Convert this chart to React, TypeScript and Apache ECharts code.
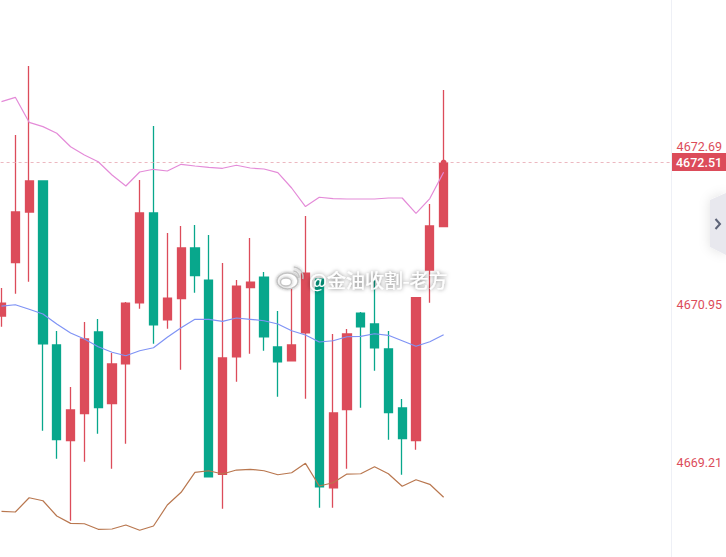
import { useEffect, useRef } from "react";
import * as echarts from "echarts";

const EMPTY_SLOTS = 16;

// open, close, low, high of each candle
const opens = [
  4670.822, 4671.409, 4671.967, 4672.308, 4670.503, 4669.45, 4669.747, 4670.646, 4669.857, 4670.297, 4670.968,
  4671.956, 4670.781, 4671.013, 4671.571, 4671.218, 4669.08, 4670.374, 4671.134, 4671.251, 4670.481, 4670.33,
  4670.638, 4671.229, 4668.932, 4669.791, 4670.855, 4670.734, 4670.459, 4669.81, 4669.45, 4671.328, 4671.805
];
const closes = [
  4670.965, 4671.967, 4672.308, 4670.517, 4669.461, 4669.788, 4670.569, 4669.813, 4670.294, 4670.965, 4671.956,
  4670.726, 4671.02, 4671.571, 4671.266, 4669.053, 4670.36, 4671.152, 4671.196, 4670.594, 4670.319, 4670.503,
  4671.295, 4668.943, 4669.755, 4670.624, 4670.704, 4670.473, 4669.758, 4669.472, 4671.024, 4671.813, 4672.51
];
const lows = [
  4670.704, 4671.068, 4671.2, 4669.56, 4669.252, 4668.569, 4669.218, 4669.527, 4669.141, 4669.417, 4670.902,
  4670.517, 4670.682, 4670.231, 4671.079, 4669.053, 4668.701, 4670.099, 4670.407, 4670.44, 4669.934, 4670.33,
  4669.912, 4668.712, 4668.712, 4669.141, 4669.813, 4670.22, 4669.461, 4669.075, 4669.351, 4670.968, 4671.805
];
const highs = [
  4671.13, 4672.814, 4673.574, 4672.308, 4670.657, 4670.041, 4670.756, 4670.789, 4670.415, 4670.976, 4672.319,
  4672.913, 4671.736, 4671.813, 4671.824, 4671.714, 4671.405, 4671.218, 4671.681, 4671.306, 4670.877, 4671.273,
  4671.923, 4671.229, 4670.624, 4670.679, 4670.866, 4671.218, 4670.657, 4669.909, 4671.024, 4672.055, 4673.309
];

const upperBand = [
  4673.181, 4673.229, 4672.954, 4672.906, 4672.833, 4672.685, 4672.594, 4672.52, 4672.374, 4672.253, 4672.407,
  4672.437, 4672.418, 4672.492, 4672.473, 4672.459, 4672.448, 4672.481, 4672.451, 4672.44, 4672.401, 4672.231,
  4672.027, 4672.129, 4672.113, 4672.11, 4672.11, 4672.11, 4672.121, 4672.121, 4671.952, 4672.115, 4672.404
];
const middleBand = [
  4670.932, 4670.946, 4670.896, 4670.844, 4670.734, 4670.635, 4670.569, 4670.484, 4670.423, 4670.385, 4670.44,
  4670.473, 4670.588, 4670.693, 4670.786, 4670.786, 4670.764, 4670.8, 4670.786, 4670.77, 4670.734, 4670.66,
  4670.613, 4670.536, 4670.55, 4670.594, 4670.599, 4670.627, 4670.61, 4670.55, 4670.489, 4670.539, 4670.616
];
const lowerBand = [
  4668.673, 4668.665, 4668.822, 4668.789, 4668.621, 4668.54, 4668.536, 4668.475, 4668.478, 4668.522, 4668.464,
  4668.511, 4668.742, 4668.882, 4669.102, 4669.119, 4669.083, 4669.127, 4669.135, 4669.119, 4669.075, 4669.097,
  4669.201, 4668.951, 4668.987, 4669.083, 4669.086, 4669.163, 4669.086, 4668.948, 4669.02, 4668.97, 4668.827
];

const priceTicks = [4672.69, 4670.95, 4669.21];
const lastPrice = 4672.51;
const watermark = "@金油收割-老方";

const RED = "#dc4c5a";
const GREEN = "#08a78c";

const categories = [...opens.map((_, i) => String(i)), ...Array.from({ length: EMPTY_SLOTS }, (_, i) => `e${i}`)];

export default function App() {
  const chartRef = useRef<HTMLDivElement>(null);

  useEffect(() => {
    if (!chartRef.current) return;
    document.body.style.margin = "0";
    const chart = echarts.init(chartRef.current, undefined, { renderer: "svg" });

    const lineSeries = (data: number[], color: string) => ({
      type: "line",
      data,
      symbol: "none",
      z: 5,
      lineStyle: { color, width: 1.2 },
      silent: true
    });

    const logoStyle = { stroke: "#c4c4c4", fill: "none", lineWidth: 1.4, shadowColor: "rgba(0,0,0,0.35)", shadowBlur: 3 };

    chart.setOption({
      animation: false,
      backgroundColor: "#ffffff",
      grid: { left: -5.4, top: 0, width: 677, height: 557, outerBoundsMode: "none" },
      xAxis: {
        type: "category",
        data: categories,
        boundaryGap: true,
        axisLine: { show: false },
        axisTick: { show: false },
        axisLabel: { show: false },
        splitLine: { show: false }
      },
      yAxis: {
        type: "value",
        position: "right",
        min: 4668.17,
        max: 4674.3,
        axisLine: { show: true, lineStyle: { color: "#eef0f6", width: 1 } },
        axisTick: { show: false },
        splitLine: { show: false },
        axisLabel: {
          color: RED,
          fontSize: 12.5,
          fontFamily: "Roboto",
          margin: 5,
          customValues: priceTicks,
          formatter: (v: number) => v.toFixed(2)
        }
      },
      series: [
        {
          type: "candlestick",
          data: opens.map((o, i) => [o, closes[i], lows[i], highs[i]]),
          barWidth: 8.7,
          z: 2,
          itemStyle: { color: RED, color0: GREEN, borderColor: RED, borderColor0: GREEN, borderWidth: 1.3 },
          markLine: {
            silent: true,
            symbol: "none",
            label: { show: false },
            lineStyle: { color: "#ecb8c0", type: [3, 3], width: 1 },
            data: [{ yAxis: lastPrice }]
          },
          markPoint: {
            silent: true,
            symbol: "circle",
            symbolSize: 6,
            label: { show: false },
            itemStyle: { color: RED },
            data: [{ coord: ["32", lastPrice] }]
          }
        },
        lineSeries(upperBand, "#e48bd8"),
        lineSeries(middleBand, "#7f93f5"),
        lineSeries(lowerBand, "#b9774f")
      ],
      graphic: [
        {
          type: "polygon",
          z: 20,
          shape: { points: [[726, 193], [710, 200], [710, 247], [726, 255]] },
          style: { fill: "#e8e8ee", shadowColor: "rgba(0,0,0,0.12)", shadowBlur: 12 }
        },
        {
          type: "polyline",
          z: 21,
          shape: { points: [[715.5, 219], [720, 224], [715.5, 229]] },
          style: { stroke: "#5d6378", lineWidth: 2, fill: "none" }
        },
        {
          type: "rect",
          z: 22,
          shape: { x: 672, y: 153, width: 54, height: 18 },
          style: { fill: RED }
        },
        {
          type: "text",
          z: 23,
          x: 676,
          y: 162,
          style: {
            text: lastPrice.toFixed(2),
            fill: "#ffffff",
            font: "500 12.5px Roboto",
            textVerticalAlign: "middle"
          }
        },
        {
          type: "text",
          z: 30,
          x: 309,
          y: 279,
          style: {
            text: watermark,
            fill: "#ffffff",
            font: "19px 'Noto Sans CJK SC'",
            textVerticalAlign: "middle",
            textShadowColor: "rgba(0,0,0,0.6)",
            textShadowBlur: 4
          }
        },
        {
          type: "ellipse",
          z: 30,
          shape: { cx: 287.5, cy: 281, rx: 10.5, ry: 8 },
          style: { ...logoStyle, fill: "#ffffff" }
        },
        {
          type: "ellipse",
          z: 31,
          shape: { cx: 286, cy: 282, rx: 5.5, ry: 4 },
          style: { ...logoStyle, fill: "#ffffff" }
        },
        {
          type: "arc",
          z: 31,
          shape: { cx: 293, cy: 277, r: 6, startAngle: -1.5, endAngle: 0.2 },
          style: logoStyle
        },
        {
          type: "arc",
          z: 31,
          shape: { cx: 293, cy: 277, r: 10, startAngle: -1.5, endAngle: 0.2 },
          style: logoStyle
        }
      ]
    });

    return () => chart.dispose();
  }, []);

  return <div ref={chartRef} style={{ width: 726, height: 557 }} />;
}
